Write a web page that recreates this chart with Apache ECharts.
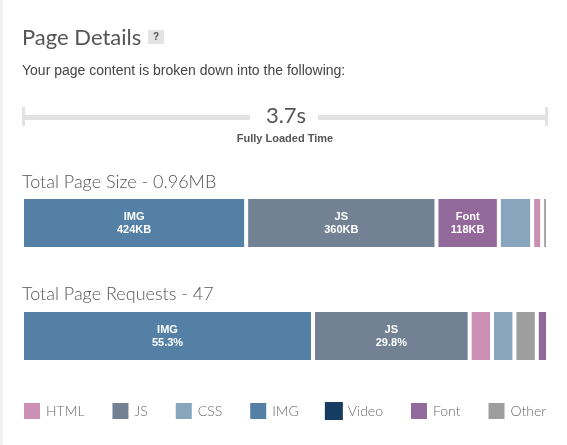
<!DOCTYPE html>
<html>
<head>
<meta charset="utf-8">
<script src="https://cdn.jsdelivr.net/npm/echarts@6/dist/echarts.min.js"></script>
<style>
html,body{margin:0;padding:0;background:#fff;}
#chart{width:567px;height:445px;}
</style>
</head>
<body>
<div id="chart"></div>
<script>
// ---- data ----
const legendNames = ['HTML', 'JS', 'CSS', 'IMG', 'Video', 'Font', 'Other'];
const sizeCategories = ['IMG', 'JS', 'Font', 'CSS', 'HTML', 'Other'];
const sizeValuesKB = [424, 360, 118, 63, 19, 11];
const totalSizeMB = 0.96;
const requestCategories = ['IMG', 'JS', 'HTML', 'CSS', 'Other', 'Font'];
const requestCounts = [26, 14, 2, 2, 2, 1];
const loadTimeSeconds = 3.7;

// ---- styles ----
const colorMap = {
  HTML: '#cc8fb4', JS: '#728194', CSS: '#88a5bd', IMG: '#5580a6',
  Video: '#163c62', Font: '#93689b', Other: '#9e9e9e'
};
const lightFont = 'Lato';
const textGray = '#555';

const sizeTotal = sizeValuesKB.reduce((a, b) => a + b, 0);
const reqTotal = requestCounts.reduce((a, b) => a + b, 0);

function barSeries(cats, vals, total, gridIdx, fmt) {
  return cats.map((c, i) => ({
    type: 'bar',
    name: c,
    stack: 'g' + gridIdx,
    xAxisIndex: gridIdx,
    yAxisIndex: gridIdx,
    barWidth: 52,
    silent: true,
    itemStyle: { color: colorMap[c], borderColor: '#fff', borderWidth: 2 },
    label: {
      show: vals[i] / total > 0.1,
      position: 'inside',
      color: '#fff',
      fontFamily: 'Liberation Sans, Arial',
      fontWeight: 'bold',
      fontSize: 11,
      lineHeight: 13,
      formatter: () => c + '\n' + fmt(vals[i])
    },
    data: [vals[i]]
  }));
}

const series = []
  .concat(barSeries(sizeCategories, sizeValuesKB, sizeTotal, 0, v => v + 'KB'))
  .concat(barSeries(requestCategories, requestCounts, reqTotal, 1, v => (v / reqTotal * 100).toFixed(1) + '%'));
series.push({
  type: 'bar', name: 'Video', stack: 'g0', xAxisIndex: 0, yAxisIndex: 0,
  itemStyle: { color: colorMap.Video }, data: []
});

const lineColor = '#e2e2e2';

const option = {
  animation: false,
  backgroundColor: '#fff',
  title: [
    { text: 'Page Details', left: 22, top: 27, padding: 0,
      textStyle: { fontFamily: lightFont, fontWeight: 'normal', fontSize: 22, color: textGray } },
    { text: '?', left: 148, top: 30, backgroundColor: '#e4e4e4', padding: [2, 5, 1, 5],
      textStyle: { fontFamily: 'Liberation Sans, Arial', fontWeight: 'bold', fontSize: 10, lineHeight: 11, color: '#555' } },
    { text: 'Your page content is broken down into the following:', left: 22, top: 64, padding: 0,
      textStyle: { fontFamily: 'Liberation Sans, Arial', fontWeight: 'normal', fontSize: 14, color: '#444' } },
    { text: loadTimeSeconds + 's', left: 286, textAlign: 'center', top: 105, padding: 0,
      textStyle: { fontFamily: lightFont, fontWeight: 'normal', fontSize: 22, color: textGray } },
    { text: 'Fully Loaded Time', left: 285, textAlign: 'center', top: 133, padding: 0,
      textStyle: { fontFamily: 'Liberation Sans, Arial', fontWeight: 'bold', fontSize: 11, color: '#555' } },
    { text: 'Total Page Size - ' + totalSizeMB + 'MB', left: 22, top: 173, padding: 0,
      textStyle: { fontFamily: lightFont, fontWeight: 300, fontSize: 18, color: textGray } },
    { text: 'Total Page Requests - ' + reqTotal, left: 22, top: 285, padding: 0,
      textStyle: { fontFamily: lightFont, fontWeight: 300, fontSize: 18, color: textGray } }
  ],
  graphic: [
    { type: 'rect', shape: { x: 0, y: 0, width: 3, height: 445 }, style: { fill: '#f0f0f0' }, silent: true },
    { type: 'rect', shape: { x: 22, y: 107, width: 3, height: 19 }, style: { fill: lineColor }, silent: true },
    { type: 'rect', shape: { x: 22, y: 115, width: 228, height: 5 }, style: { fill: lineColor }, silent: true },
    { type: 'rect', shape: { x: 318, y: 115, width: 230, height: 5 }, style: { fill: lineColor }, silent: true },
    { type: 'rect', shape: { x: 545, y: 107, width: 3, height: 19 }, style: { fill: lineColor }, silent: true }
  ],
  legend: {
    data: legendNames,
    left: 22, top: 401, width: 545, padding: 0,
    itemWidth: 18, itemHeight: 18, itemGap: 26,
    icon: 'rect',
    selectedMode: false,
    textStyle: { fontFamily: lightFont, fontWeight: 300, fontSize: 14, color: '#6a6a6a' }
  },
  grid: [
    { left: 22, width: 526, top: 197, height: 52 },
    { left: 22, width: 526, top: 310, height: 52 }
  ],
  xAxis: [
    { type: 'value', gridIndex: 0, min: 0, max: sizeTotal, show: false },
    { type: 'value', gridIndex: 1, min: 0, max: reqTotal, show: false }
  ],
  yAxis: [
    { type: 'category', gridIndex: 0, data: ['size'], show: false },
    { type: 'category', gridIndex: 1, data: ['requests'], show: false }
  ],
  series: series
};

const chart = echarts.init(document.getElementById('chart'), null, { renderer: 'canvas' });
chart.setOption(option);
</script>
</body>
</html>
